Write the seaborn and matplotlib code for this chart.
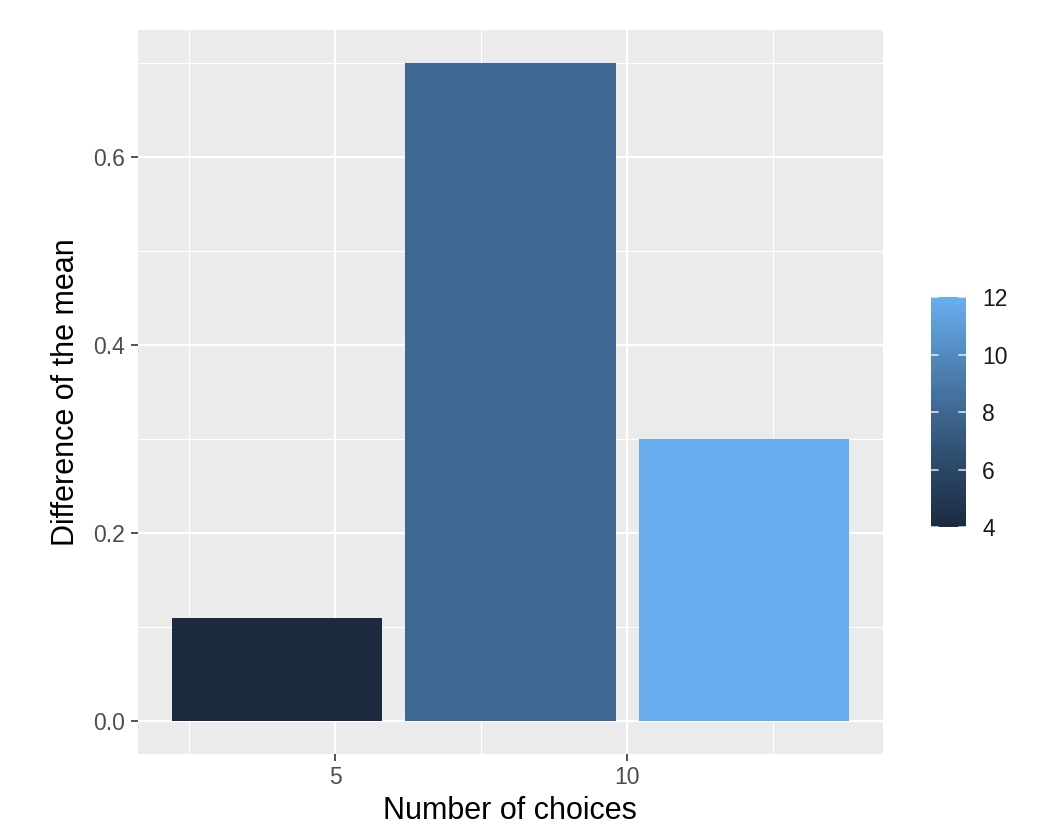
"""
Bar chart of mean differences by number of choices (ggplot-like style)
"""
import numpy as np
import pandas as pd
import matplotlib
matplotlib.use('Agg')
import matplotlib.pyplot as plt
from matplotlib.colors import LinearSegmentedColormap, Normalize
import matplotlib.cm as cm
import seaborn as sns

# Data
choices = [4, 8, 12]
mean_diff = [0.11, 0.70, 0.30]

x_ticks = [5, 10]
y_ticks = [0.0, 0.2, 0.4, 0.6]
cbar_ticks = [4, 6, 8, 10, 12]

# Style
sns.set_theme(style='darkgrid', rc={
    'axes.facecolor': '#EBEBEB',
    'grid.color': 'white',
    'axes.edgecolor': 'none',
})
plt.rcParams['font.family'] = ['Liberation Sans', 'DejaVu Sans']

# gradient matched to the reference's rendered colours
cmap = LinearSegmentedColormap.from_list(
    'gg', ['#1B2A3F', '#2B4766', '#3E6791', '#528ABF', '#68AEEF'])
norm = Normalize(vmin=4, vmax=12)

df = pd.DataFrame({'choices': choices, 'mean_diff': mean_diff})

fig = plt.figure(figsize=(10.6, 8.3), dpi=100)
ax = fig.add_axes([0.130, 0.0916, 0.703, 0.8723])

sns.barplot(data=df, x='choices', y='mean_diff', hue='choices',
            palette=cmap, hue_norm=(4, 12), native_scale=True,
            width=0.9, dodge=False, legend=False, ax=ax, saturation=1)
for p in ax.patches:
    p.set_edgecolor('none')

# Axis limits with ggplot-style 5% expansion
xmin, xmax = choices[0] - 1.8, choices[-1] + 1.8
xr = xmax - xmin
ax.set_xlim(xmin - 0.05 * xr, xmax + 0.05 * xr)
ax.set_ylim(-0.05 * 0.70, 0.70 * 1.05)

ax.set_xticks(x_ticks)
ax.set_xticklabels([str(t) for t in x_ticks])
ax.set_yticks(y_ticks)
ax.set_yticklabels([f'{t:.1f}' for t in y_ticks])
ax.set_xticks([2.5, 7.5, 12.5], minor=True)
ax.set_yticks([0.1, 0.3, 0.5, 0.7], minor=True)
ax.grid(which='major', color='white', linewidth=1.6)
ax.grid(which='minor', color='white', linewidth=0.8)
ax.set_axisbelow(True)

ax.tick_params(axis='both', which='major', length=5, width=1.2,
               color='#333333', labelsize=16.5, labelcolor='#4D4D4D',
               direction='out', pad=4, bottom=True, left=True)
ax.tick_params(axis='both', which='minor', length=0)
ax.set_xlabel('Number of choices', fontsize=22, color='black', labelpad=5)
ax.set_ylabel('Difference of the mean', fontsize=22, color='black', labelpad=9)
for s in ax.spines.values():
    s.set_visible(False)

# Colorbar
cax = fig.add_axes([0.878, 0.365, 0.033, 0.277])
sm = cm.ScalarMappable(norm=norm, cmap=cmap)
cb = fig.colorbar(sm, cax=cax, ticks=cbar_ticks)
cb.outline.set_visible(False)
cax.tick_params(length=0, labelsize=16.5, labelcolor='#1A1A1A', pad=12)
for t in cbar_ticks:
    cax.plot([0, 0.2], [t, t], color='white', lw=1.2, alpha=0.8,
             transform=cax.get_yaxis_transform())
    cax.plot([0.8, 1.0], [t, t], color='white', lw=1.2, alpha=0.8,
             transform=cax.get_yaxis_transform())
cax.grid(False)

fig.savefig('out.png', dpi=100)
plt.close(fig)
